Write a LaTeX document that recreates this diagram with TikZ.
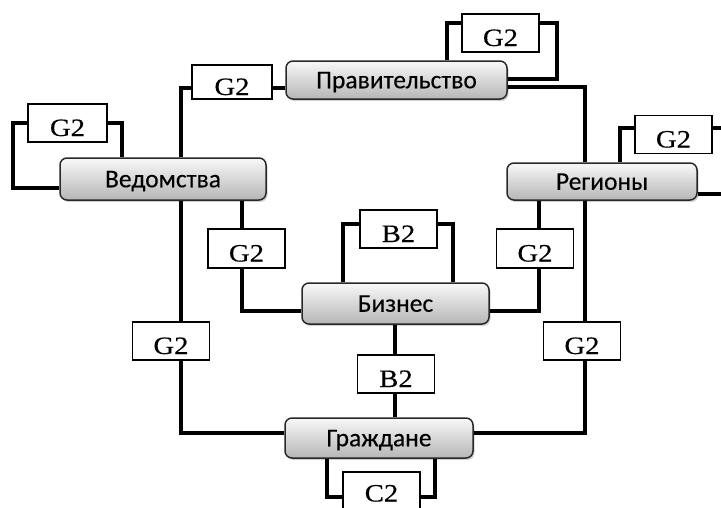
\documentclass[tikz,border=0pt]{standalone}
\usepackage{fontspec}
\usetikzlibrary{shadows,calc}
\newfontfamily\entfont[FakeBold=0.2]{Carlito}
\newfontfamily\lblfont[FakeStretch=1.15,FakeBold=0.3]{Liberation Serif}
\definecolor{entline}{RGB}{40,40,40}
\definecolor{enttop}{RGB}{248,248,248}
\definecolor{entbot}{RGB}{182,182,182}
\begin{document}
\begin{tikzpicture}[x=1pt,y=-1pt,
  entity/.style={draw=entline, line width=1.5pt, rounded corners=7pt,
    top color=enttop, bottom color=entbot,
    drop shadow={shadow xshift=1.5pt, shadow yshift=-2pt, opacity=0.35},
    font=\entfont\fontsize{25.5}{30}\selectfont,
    text height=16.5pt, text depth=0pt, inner sep=0pt},
  tag/.style={draw, line width=1.3pt, fill=white, inner sep=0pt,
    minimum width=77pt, minimum height=38pt,
    font=\lblfont\fontsize{25}{30}\selectfont,
    text height=26pt, text depth=0pt},
  wire/.style={line width=3.2pt, line join=miter}]
\clip (0,0) rectangle (721,507);

% main blocks
\node[entity, minimum width=221pt, minimum height=38pt] (gov) at (396.5,80) {Правительство};
\node[entity, minimum width=206pt, minimum height=42pt] (ved) at (163,179) {Ведомства};
\node[entity, minimum width=190pt, minimum height=37pt] (reg) at (602,181.5) {Регионы};
\node[entity, minimum width=187pt, minimum height=41pt] (biz) at (395.5,303.5) {Бизнес};
\node[entity, minimum width=188pt, minimum height=40pt] (cit) at (379,438) {Граждане};

% interaction tags
\node[tag] (gTop) at (500.5,33) {G2};
\node[tag, minimum width=80pt, minimum height=34pt] (gGovL) at (232,82) {G2};
\node[tag, minimum width=79pt] (gVed) at (67.5,123) {G2};
\node[tag] (gReg) at (673.5,134.5) {G2};
\node[tag] (b2Top) at (398.5,229) {B2};
\node[tag, minimum height=39pt] (gML) at (246.5,248.5) {G2};
\node[tag, minimum height=39pt] (gMR) at (535,248.5) {G2};
\node[tag] (gLL) at (171,341) {G2};
\node[tag] (gLR) at (582,341) {G2};
\node[tag] (b2Mid) at (396,374) {B2};
\node[tag, text height=21pt] (c2) at (381.5,491) {C2};

% outer ring
\coordinate (cTL) at (181,88);
\coordinate (cTR) at (585,87);
\coordinate (cBL) at (181,433);
\coordinate (cBR) at (585,433);
\draw[wire] (gov.west |- cTL) -- (gGovL.east |- cTL);
\draw[wire] (gGovL.west |- cTL) -- (cTL) -- (ved.north -| cTL);
\draw[wire] (ved.south -| cTL) -- (gLL.north -| cTL);
\draw[wire] (gLL.south -| cTL) -- (cBL) -- (cit.west |- cBL);
\draw[wire] (cit.east |- cBR) -- (cBR) -- (gLR.south -| cBR);
\draw[wire] (gLR.north -| cBR) -- (reg.south -| cBR);
\draw[wire] (reg.north -| cBR) -- (cTR) -- (gov.east |- cTR);

% self loops
\coordinate (tA) at (447,23);
\coordinate (tB) at (557,23);
\coordinate (tC) at (557,79);
\draw[wire] (gov.north -| tA) -- (tA) -- (gTop.west |- tA);
\draw[wire] (gTop.east |- tB) -- (tB) -- (tC) -- (gov.east |- tC);

\coordinate (vA) at (13,123);
\coordinate (vB) at (13,188);
\coordinate (vC) at (122,123);
\draw[wire] (gVed.west |- vA) -- (vA) -- (vB) -- (ved.west |- vB);
\draw[wire] (gVed.east |- vC) -- (vC) -- (ved.north -| vC);

\coordinate (rA) at (620,128);
\coordinate (rB) at (740,128);
\coordinate (rC) at (740,194);
\draw[wire] (reg.north -| rA) -- (rA) -- (gReg.west |- rA);
\draw[wire] (gReg.east |- rB) -- (rB) -- (rC) -- (reg.east |- rC);

\coordinate (bA) at (343,224);
\coordinate (bB) at (453,224);
\draw[wire] (biz.north -| bA) -- (bA) -- (b2Top.west |- bA);
\draw[wire] (b2Top.east |- bB) -- (bB) -- (biz.north -| bB);

\coordinate (cA) at (327,497);
\coordinate (cB) at (435,497);
\draw[wire] (cit.south -| cA) -- (cA) -- (c2.west |- cA);
\draw[wire] (c2.east |- cB) -- (cB) -- (cit.south -| cB);

% links through the business block
\coordinate (mL) at (242,311);
\coordinate (mR) at (539,311);
\coordinate (mC) at (395,374);
\draw[wire] (ved.south -| mL) -- (gML.north -| mL);
\draw[wire] (gML.south -| mL) -- (mL) -- (biz.west |- mL);
\draw[wire] (reg.south -| mR) -- (gMR.north -| mR);
\draw[wire] (gMR.south -| mR) -- (mR) -- (biz.east |- mR);
\draw[wire] (biz.south -| mC) -- (b2Mid.north -| mC);
\draw[wire] (b2Mid.south -| mC) -- (cit.north -| mC);
\end{tikzpicture}
\end{document}
